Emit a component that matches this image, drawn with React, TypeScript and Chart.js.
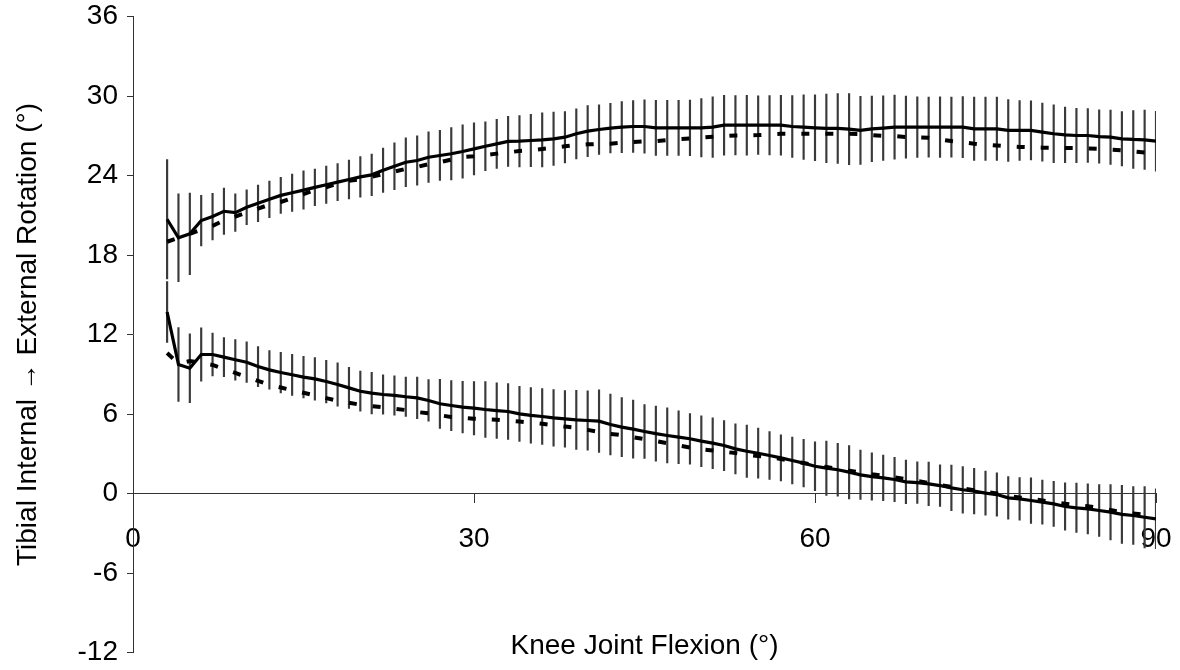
import React, { useEffect, useRef } from 'react';
import { Chart, registerables } from 'chart.js';

Chart.register(...registerables);

const FONT = "'Liberation Sans', Arial, sans-serif";

// Knee flexion angle (degrees)
const flexion = [
  3, 4, 5, 6, 7, 8, 9, 10, 11, 12,
  13, 14, 15, 16, 17, 18, 19, 20, 21, 22,
  23, 24, 25, 26, 27, 28, 29, 30, 31, 32,
  33, 34, 35, 36, 37, 38, 39, 40, 41, 42,
  43, 44, 45, 46, 47, 48, 49, 50, 51, 52,
  53, 54, 55, 56, 57, 58, 59, 60, 61, 62,
  63, 64, 65, 66, 67, 68, 69, 70, 71, 72,
  73, 74, 75, 76, 77, 78, 79, 80, 81, 82,
  83, 84, 85, 86, 87, 88, 89, 90,
];

// Upper curve pair
const upperSolid = [
  20.7, 19.3, 19.6, 20.6, 20.9, 21.3, 21.2, 21.6, 21.9, 22.2,
  22.5, 22.7, 22.9, 23.1, 23.3, 23.5, 23.7, 23.9, 24.05, 24.4,
  24.7, 25.0, 25.13, 25.38, 25.51, 25.64, 25.81, 26.01, 26.21, 26.39,
  26.57, 26.59, 26.64, 26.69, 26.77, 26.89, 27.15, 27.35, 27.47, 27.57,
  27.65, 27.7, 27.7, 27.6, 27.6, 27.6, 27.6, 27.6, 27.65, 27.8,
  27.8, 27.8, 27.8, 27.8, 27.8, 27.7, 27.65, 27.6, 27.55, 27.55,
  27.5, 27.4, 27.52, 27.58, 27.65, 27.65, 27.65, 27.65, 27.65, 27.65,
  27.65, 27.52, 27.52, 27.52, 27.4, 27.4, 27.4, 27.27, 27.15, 27.07,
  27.02, 27.02, 26.94, 26.89, 26.77, 26.72, 26.69, 26.59,
];
const upperDashed = [
  19.0, 19.3, 19.6, 19.9, 20.2, 20.6, 20.9, 21.2, 21.5, 21.8,
  22.0, 22.3, 22.6, 22.9, 23.1, 23.4, 23.6, 23.7, 23.9, 24.1,
  24.3, 24.5, 24.65, 24.85, 25.0, 25.2, 25.4, 25.45, 25.55, 25.65,
  25.75, 25.85, 25.9, 26.0, 26.1, 26.2, 26.3, 26.35, 26.37, 26.4,
  26.47, 26.53, 26.58, 26.6, 26.68, 26.75, 26.8, 26.87, 26.93, 26.98,
  27.02, 27.03, 27.05, 27.1, 27.15, 27.15, 27.15, 27.15, 27.15, 27.15,
  27.15, 27.12, 27.05, 27.0, 26.97, 26.9, 26.87, 26.84, 26.72, 26.6,
  26.5, 26.4, 26.33, 26.27, 26.2, 26.16, 26.13, 26.1, 26.09, 26.08,
  26.07, 26.04, 26.01, 25.95, 25.9, 25.82, 25.74, 25.68,
];
const upperSD = [
  4.5, 3.31, 3.08, 1.91, 1.76, 1.75, 1.42, 1.31, 1.38, 1.38,
  1.36, 1.41, 1.45, 1.38, 1.41, 1.40, 1.47, 1.53, 1.57, 1.67,
  1.76, 1.85, 1.86, 1.91, 1.89, 1.97, 2.01, 1.97, 1.84, 1.85,
  1.89, 1.94, 1.97, 2.04, 2.01, 1.94, 1.89, 1.92, 1.87, 1.87,
  1.92, 1.95, 2.01, 2.08, 2.08, 2.08, 2.10, 2.20, 2.28, 2.26,
  2.24, 2.26, 2.21, 2.24, 2.26, 2.33, 2.44, 2.48, 2.59, 2.64,
  2.68, 2.57, 2.48, 2.44, 2.42, 2.35, 2.29, 2.26, 2.29, 2.26,
  2.30, 2.39, 2.39, 2.39, 2.33, 2.26, 2.23, 2.19, 2.18, 2.10,
  2.05, 2.04, 2.01, 2.05, 2.05, 2.18, 2.24, 2.26,
];

// Lower curve pair
const lowerSolid = [
  13.7, 9.74, 9.46, 10.49, 10.49, 10.29, 10.09, 9.91, 9.58, 9.33,
  9.13, 8.96, 8.78, 8.65, 8.45, 8.23, 7.97, 7.72, 7.57, 7.47,
  7.40, 7.30, 7.22, 7.02, 6.77, 6.64, 6.52, 6.44, 6.34, 6.26,
  6.19, 6.01, 5.89, 5.81, 5.71, 5.63, 5.56, 5.51, 5.46, 5.21,
  5.01, 4.86, 4.68, 4.52, 4.38, 4.25, 4.13, 3.95, 3.80, 3.62,
  3.37, 3.19, 3.04, 2.87, 2.69, 2.49, 2.29, 2.06, 1.91, 1.79,
  1.61, 1.41, 1.28, 1.18, 1.06, 0.88, 0.82, 0.73, 0.60, 0.43,
  0.28, 0.18, 0.03, -0.08, -0.33, -0.40, -0.53, -0.65, -0.78, -0.98,
  -1.08, -1.16, -1.28, -1.41, -1.58, -1.66, -1.79, -1.91,
];
const lowerDashed = [
  10.6, 9.8, 10.0, 9.85, 9.7, 9.4, 9.1, 8.8, 8.5, 8.2,
  8.0, 7.8, 7.6, 7.4, 7.2, 7.0, 6.85, 6.7, 6.6, 6.5,
  6.4, 6.3, 6.15, 6.05, 5.9, 5.78, 5.7, 5.64, 5.6, 5.57,
  5.5, 5.43, 5.35, 5.26, 5.15, 5.05, 4.96, 4.8, 4.65, 4.5,
  4.4, 4.25, 4.1, 3.95, 3.8, 3.62, 3.47, 3.33, 3.25, 3.15,
  3.05, 2.92, 2.83, 2.75, 2.6, 2.45, 2.3, 2.15, 2.0, 1.85,
  1.72, 1.58, 1.45, 1.35, 1.23, 1.08, 0.95, 0.8, 0.63, 0.5,
  0.38, 0.25, 0.12, 0.0, -0.18, -0.3, -0.4, -0.52, -0.65, -0.78,
  -0.88, -0.96, -1.08, -1.25, -1.4, -1.5, -1.6, -1.7,
];
const lowerSD = [
  2.3, 2.79, 2.60, 2.01, 1.61, 1.48, 1.53, 1.53, 1.51, 1.45,
  1.53, 1.55, 1.57, 1.60, 1.61, 1.64, 1.55, 1.51, 1.57, 1.48,
  1.48, 1.48, 1.57, 1.57, 1.85, 1.89, 1.95, 2.01, 2.10, 2.10,
  2.11, 2.08, 2.10, 2.11, 2.14, 2.14, 2.23, 2.24, 2.36, 2.29,
  2.23, 2.20, 2.04, 2.08, 2.08, 1.99, 1.91, 1.92, 1.92, 1.89,
  1.89, 1.97, 1.89, 1.80, 1.74, 1.76, 1.79, 1.84, 2.05, 1.99,
  2.01, 1.86, 1.79, 1.72, 1.67, 1.64, 1.57, 1.64, 1.57, 1.72,
  1.76, 1.72, 1.67, 1.64, 1.60, 1.61, 1.72, 1.67, 1.70, 1.79,
  1.86, 1.89, 1.96, 2.09, 2.19, 2.19, 2.31, 2.26,
];

const xTicks = [0, 30, 60, 90];
const yTicks = [-12, -6, 0, 6, 12, 18, 24, 30, 36];

const X_TITLE = 'Knee Joint Flexion (°)';
const Y_TITLE = 'Tibial Internal → External Rotation (°)';

const points = (ys: number[]) => flexion.map((x, i) => ({ x, y: ys[i] }));
const errRanges = (mean: number[], sd: number[]) =>
  flexion.map((x, i) => ({ x, y: [mean[i] - sd[i], mean[i] + sd[i]] }));

export default function App() {
  const canvasRef = useRef<HTMLCanvasElement | null>(null);

  useEffect(() => {
    document.body.style.margin = '0';
    const canvas = canvasRef.current;
    if (!canvas) return;

    const errStyle = {
      type: 'bar' as const,
      backgroundColor: '#3a3a3a',
      borderWidth: 0,
      barThickness: 1.5,
      grouped: false,
      order: 10,
    };
    const solidStyle = {
      type: 'line' as const,
      borderColor: '#000',
      borderWidth: 3.2,
      pointRadius: 0,
      tension: 0,
      fill: false,
      order: 1,
    };
    const dashedStyle = {
      type: 'line' as const,
      borderColor: '#000',
      borderWidth: 4,
      borderDash: [8, 16],
      borderCapStyle: 'butt' as const,
      pointRadius: 0,
      tension: 0,
      fill: false,
      order: 2,
    };

    const chart = new Chart(canvas, {
      type: 'line',
      data: {
        datasets: [
          { ...errStyle, label: 'Upper SD', data: errRanges(upperSolid, upperSD) as any },
          { ...errStyle, label: 'Lower SD', data: errRanges(lowerSolid, lowerSD) as any },
          { ...dashedStyle, label: 'Upper dashed', data: points(upperDashed) },
          { ...dashedStyle, label: 'Lower dashed', data: points(lowerDashed) },
          { ...solidStyle, label: 'Upper solid', data: points(upperSolid) },
          { ...solidStyle, label: 'Lower solid', data: points(lowerSolid) },
        ] as any,
      },
      options: {
        animation: false,
        responsive: true,
        maintainAspectRatio: false,
        events: [],
        layout: { padding: { top: 16.5, right: 24, bottom: 17.5, left: 0 } },
        plugins: {
          legend: { display: false },
          tooltip: { enabled: false },
        },
        scales: {
          x: {
            type: 'linear',
            min: xTicks[0],
            max: xTicks[xTicks.length - 1],
            position: { y: 0 } as any,
            offset: false,
            afterFit: (s: any) => {
              s.paddingLeft = 0;
              s.paddingRight = 0;
            },
            afterBuildTicks: (s: any) => {
              s.ticks = xTicks.map((v) => ({ value: v }));
            },
            grid: {
              display: true,
              drawOnChartArea: false,
              drawTicks: true,
              tickLength: 9,
              color: '#333',
              lineWidth: 1,
              offset: false,
            },
            border: { display: true, color: '#333', width: 1 },
            ticks: {
              color: '#000',
              font: { family: FONT, size: 28 },
              padding: 20,
              maxRotation: 0,
              autoSkip: false,
            },
            title: {
              display: true,
              text: X_TITLE,
              color: '#000',
              font: { family: FONT, size: 28 },
              padding: { top: 53, bottom: 0 },
            },
          },
          y: {
            type: 'linear',
            min: yTicks[0],
            max: yTicks[yTicks.length - 1],
            position: 'left',
            afterFit: (s: any) => {
              s.width = 133;
              s.paddingTop = 0;
              s.paddingBottom = 0;
            },
            afterBuildTicks: (s: any) => {
              s.ticks = yTicks.map((v) => ({ value: v }));
            },
            grid: {
              display: true,
              drawOnChartArea: false,
              drawTicks: true,
              tickLength: 6,
              color: '#333',
              lineWidth: 1,
            },
            border: { display: true, color: '#333', width: 1 },
            ticks: {
              color: '#000',
              font: { family: FONT, size: 28 },
              padding: 9,
              autoSkip: false,
            },
            title: {
              display: true,
              text: Y_TITLE,
              color: '#000',
              font: { family: FONT, size: 28 },
              padding: { top: 11.7, bottom: 0 },
            },
          },
        },
      },
    });

    return () => {
      chart.destroy();
    };
  }, []);

  return (
    <div style={{ position: 'relative', width: 1180, height: 670, background: '#fff' }}>
      <canvas ref={canvasRef} />
    </div>
  );
}
